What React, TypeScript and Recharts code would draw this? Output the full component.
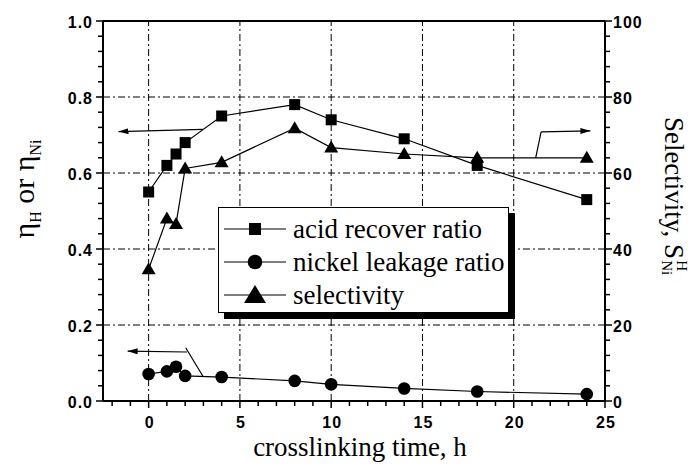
import React from 'react';
import { ComposedChart, Line, XAxis, YAxis, ReferenceLine } from 'recharts';

// crosslinking time (h)
const times = [0, 1, 1.5, 2, 4, 8, 10, 14, 18, 24];
// left axis: eta_H, eta_Ni
const acidRecover = [0.55, 0.62, 0.65, 0.68, 0.75, 0.78, 0.74, 0.69, 0.62, 0.53];
const nickelLeakage = [0.071, 0.078, 0.09, 0.066, 0.063, 0.053, 0.044, 0.033, 0.025, 0.018];
// right axis: selectivity
const selectivity = [34.7, 48, 46.6, 61.2, 62.8, 71.8, 66.7, 65, 64, 64];

const xTicks = [-2, -1, 0, 1, 2, 3, 4, 5, 6, 7, 8, 9, 10, 11, 12, 13, 14, 15, 16, 17, 18, 19, 20, 21, 22, 23, 24, 25];
const xMajor = [0, 5, 10, 15, 20, 25];
const xGrid = [0, 5, 10, 15, 20];
const leftTicks = [0, 0.04, 0.08, 0.12, 0.16, 0.2, 0.24, 0.28, 0.32, 0.36, 0.4, 0.44, 0.48, 0.52, 0.56, 0.6, 0.64, 0.68, 0.72, 0.76, 0.8, 0.84, 0.88, 0.92, 0.96, 1];
const leftMajor = [0, 0.2, 0.4, 0.6, 0.8, 1];
const yGrid = [0.2, 0.4, 0.6, 0.8];
const rightTicks = [0, 4, 8, 12, 16, 20, 24, 28, 32, 36, 40, 44, 48, 52, 56, 60, 64, 68, 72, 76, 80, 84, 88, 92, 96, 100];
const rightMajor = [0, 20, 40, 60, 80, 100];

// annotation arrows (left-axis units)
const acidArrow = [{ x: 2.98, y: 0.715 }, { x: -1.65, y: 0.709 }];
const nickelStem = [{ x: 3.0, y: 0.063 }, { x: 2.03, y: 0.14 }];
const nickelArrow = [{ x: 2.1, y: 0.129 }, { x: -1.15, y: 0.131 }];
const selStem = [{ x: 21.2, y: 0.639 }, { x: 21.5, y: 0.708 }];
const selArrow = [{ x: 21.5, y: 0.708 }, { x: 24.2, y: 0.711 }];

const data = times.map((t, i) => ({
  t,
  acid: acidRecover[i],
  nickel: nickelLeakage[i],
  sel: selectivity[i],
}));

const TS = 6;
const TM = 4;
const tickFont: React.CSSProperties = {
  fontFamily: '"Liberation Sans", Arial, sans-serif',
  fontWeight: 700,
  fontSize: 16,
  letterSpacing: 1,
};
const serif = '"Liberation Serif", "Times New Roman", serif';

const LeftTick = ({ x, y, payload }: any) => {
  const ax = x + TS + TM;
  const major = leftMajor.includes(payload.value);
  return (
    <g>
      <line x1={ax} x2={ax - (major ? 7 : 5)} y1={y} y2={y} stroke="#000" strokeWidth={1.5} />
      {major && (
        <text x={ax - 10} y={y + 1} textAnchor="end" dominantBaseline="central" fill="#000" style={tickFont}>
          {payload.value.toFixed(1)}
        </text>
      )}
    </g>
  );
};

const RightTick = ({ x, y, payload }: any) => {
  const ax = x - TS - TM;
  const major = rightMajor.includes(payload.value);
  return (
    <g>
      <line x1={ax} x2={ax + (major ? 7 : 5)} y1={y} y2={y} stroke="#000" strokeWidth={1.5} />
      {major && (
        <text x={ax + 8} y={y + 1} textAnchor="start" dominantBaseline="central" fill="#000" style={tickFont}>
          {payload.value}
        </text>
      )}
    </g>
  );
};

const BottomTick = ({ x, y, payload }: any) => {
  const ay = y - TS - TM;
  const major = xMajor.includes(payload.value);
  return (
    <g>
      <line x1={x} x2={x} y1={ay} y2={ay + (major ? 7 : 5)} stroke="#000" strokeWidth={1.5} />
      {major && (
        <text x={x + 1} y={ay + 21} textAnchor="middle" dominantBaseline="central" fill="#000" style={tickFont}>
          {payload.value}
        </text>
      )}
    </g>
  );
};

const SquareDot = ({ cx, cy }: any) => <rect x={cx - 5.5} y={cy - 5.5} width={11} height={11} fill="#000" />;
const CircleDot = ({ cx, cy }: any) => <circle cx={cx} cy={cy} r={6.3} fill="#000" />;
const TriangleDot = ({ cx, cy }: any) => (
  <path d={`M${cx},${cy - 7} L${cx + 7},${cy + 5} L${cx - 7},${cy + 5} Z`} fill="#000" />
);

const legendItems = [
  { label: 'acid recover ratio', marker: <rect x={25} y={10} width={12} height={12} fill="#000" /> },
  { label: 'nickel leakage ratio', marker: <circle cx={31} cy={16} r={7.3} fill="#000" /> },
  { label: 'selectivity', marker: <path d="M31,6 L42,24 L20,24 Z" fill="#000" /> },
];

const grid = { stroke: '#000', strokeWidth: 1, strokeDasharray: '7 3 2 3' };
const arrowProps = { stroke: '#000', strokeWidth: 1.2, ifOverflow: 'visible' as const };

export default function App() {
  return (
    <div style={{ position: 'absolute', left: 0, top: 0, width: 696, height: 467, background: '#fff' }}>
      <svg width={0} height={0} style={{ position: 'absolute' }}>
        <defs>
          <marker id="arrowHead" viewBox="0 0 10 6" refX="10" refY="3" markerWidth="10" markerHeight="6"
            markerUnits="userSpaceOnUse" orient="auto">
            <path d="M0,0 L10,3 L0,6 Z" fill="#000" />
          </marker>
        </defs>
      </svg>
      <ComposedChart width={696} height={467} data={data} margin={{ top: 21, right: 0, bottom: 0, left: 0 }}>
        <XAxis
          dataKey="t"
          type="number"
          domain={[-2.5, 25]}
          ticks={xTicks}
          interval={0}
          height={66}
          tickSize={TS}
          tickMargin={TM}
          tickLine={false}
          tick={<BottomTick />}
          axisLine={{ stroke: '#000', strokeWidth: 2 }}
          allowDataOverflow
        />
        <YAxis
          yAxisId="left"
          orientation="left"
          type="number"
          domain={[0, 1]}
          ticks={leftTicks}
          interval={0}
          width={103}
          tickSize={TS}
          tickMargin={TM}
          tickLine={false}
          tick={<LeftTick />}
          axisLine={{ stroke: '#000', strokeWidth: 2 }}
          allowDataOverflow
        />
        <YAxis
          yAxisId="right"
          orientation="right"
          type="number"
          domain={[0, 100]}
          ticks={rightTicks}
          interval={0}
          width={91}
          tickSize={TS}
          tickMargin={TM}
          tickLine={false}
          tick={<RightTick />}
          axisLine={{ stroke: '#000', strokeWidth: 2 }}
          allowDataOverflow
        />
        {xGrid.map((v) => (
          <ReferenceLine key={`gx${v}`} x={v} yAxisId="left" {...grid} />
        ))}
        {yGrid.map((v) => (
          <ReferenceLine key={`gy${v}`} y={v} yAxisId="left" {...grid} />
        ))}
        <ReferenceLine y={1} yAxisId="left" stroke="#000" strokeWidth={2} ifOverflow="visible" />
        <ReferenceLine yAxisId="left" segment={acidArrow} {...arrowProps} markerEnd="url(#arrowHead)" />
        <ReferenceLine yAxisId="left" segment={nickelStem} {...arrowProps} />
        <ReferenceLine yAxisId="left" segment={nickelArrow} {...arrowProps} markerEnd="url(#arrowHead)" />
        <ReferenceLine yAxisId="left" segment={selStem} {...arrowProps} />
        <ReferenceLine yAxisId="left" segment={selArrow} {...arrowProps} markerEnd="url(#arrowHead)" />
        <Line yAxisId="left" dataKey="acid" type="linear" stroke="#000" strokeWidth={1.2}
          dot={<SquareDot />} activeDot={false} isAnimationActive={false} />
        <Line yAxisId="left" dataKey="nickel" type="linear" stroke="#000" strokeWidth={1.2}
          dot={<CircleDot />} activeDot={false} isAnimationActive={false} />
        <Line yAxisId="right" dataKey="sel" type="linear" stroke="#000" strokeWidth={1.2}
          dot={<TriangleDot />} activeDot={false} isAnimationActive={false} />
      </ComposedChart>

      {/* legend */}
      <div style={{
        position: 'absolute', left: 218, top: 207, width: 289, height: 104,
        border: '1px solid #000', background: '#fff', boxShadow: '6px 6px 0 #000', overflow: 'hidden',
      }}>
        {legendItems.map((it, i) => (
          <div key={it.label} style={{ position: 'absolute', left: 4, top: 5 + i * 33, height: 32, display: 'flex', alignItems: 'center', whiteSpace: 'nowrap' }}>
            <svg width={66} height={32} style={{ flex: 'none' }}>
              <line x1={1} x2={63} y1={16} y2={16} stroke="#000" strokeWidth={1.2} />
              {React.cloneElement(it.marker, { transform: 'translate(1,0)' })}
            </svg>
            <span style={{ fontFamily: serif, fontSize: 27, marginLeft: 4, lineHeight: 1 }}>{it.label}</span>
          </div>
        ))}
      </div>

      {/* left axis title */}
      <div style={{
        position: 'absolute', left: 26, top: 189, transform: 'translate(-50%, -50%) rotate(-90deg)',
        whiteSpace: 'nowrap', fontFamily: serif, fontSize: 30, lineHeight: 1,
      }}>
        η<sub style={{ fontSize: 16 }}>H</sub> or η<sub style={{ fontSize: 16 }}>Ni</sub>
      </div>

      {/* right axis title */}
      <div style={{
        position: 'absolute', left: 674, top: 196, transform: 'translate(-50%, -50%) rotate(90deg)',
        whiteSpace: 'nowrap', fontFamily: serif, fontSize: 27, lineHeight: 1, display: 'flex', alignItems: 'center',
      }}>
        <span>Selectivity, S</span>
        <span style={{ display: 'inline-flex', flexDirection: 'column', fontSize: 15, lineHeight: 1, marginLeft: 1 }}>
          <span>H</span>
          <span>Ni</span>
        </span>
      </div>

      {/* x axis title */}
      <div style={{
        position: 'absolute', left: 360, top: 434, transform: 'translateX(-50%)',
        whiteSpace: 'nowrap', fontFamily: serif, fontSize: 27, lineHeight: 1,
      }}>
        crosslinking time, h
      </div>
    </div>
  );
}
